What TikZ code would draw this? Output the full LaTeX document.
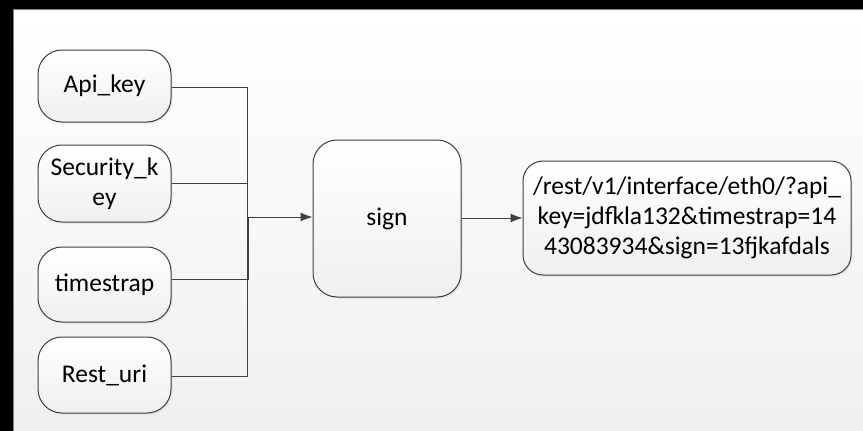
\documentclass[tikz,border=0pt]{standalone}
\usepackage{fontspec}
\setmainfont{Carlito}
\usetikzlibrary{arrows.meta,shadows}
\definecolor{linec}{HTML}{404040}
\tikzset{
  box/.style={draw=linec, line width=1pt, rounded corners=24pt, top color=white, bottom color=black!6,
    drop shadow={shadow xshift=1.5pt, shadow yshift=-1.5pt, opacity=0.15},
    align=center, inner sep=0pt, font=\fontsize{25.5}{30}\selectfont},
  conn/.style={draw=linec, line width=1pt},
  arr/.style={conn, -{Latex[length=12pt,width=9pt]}}
}
\begin{document}
\begin{tikzpicture}[x=1pt,y=-1pt]
\useasboundingbox (0,0) rectangle (863,431);
\fill[black] (0,0) rectangle (863,431);
\shade[top color=white, bottom color=black!6] (13,9) rectangle (863,431);
\draw[gray, line width=1pt] (13,431) -- (13,9) -- (863,9);
\node[box, minimum width=133pt, minimum height=72pt] (api) at (104.5,86) {Api\_key};
\node[box, minimum width=133pt, minimum height=77pt] (sec) at (104.5,183.5) {Security\_k\\ey};
\node[box, minimum width=133pt, minimum height=75pt] (ts) at (104.5,284.5) {timestrap};
\node[box, minimum width=133pt, minimum height=76pt] (rest) at (104.5,375) {Rest\_uri};
\node[box, minimum width=148pt, minimum height=157pt] (sign) at (387,218.5) {sign};
\node[box, rounded corners=20pt, minimum width=328pt, minimum height=114pt] (out) at (687,218)
  {/rest/v1/interface/eth0/?api\_\\key=jdfkla132\&timestrap=14\\43083934\&sign=13fjkafdals};
\coordinate (bus) at (247,217);
\draw[conn] (api.east |- 0,87) -- (247,87) -- (bus);
\draw[conn] (sec.east) -- (247,183.5);
\draw[conn] (ts.east |- 0,279) -- (248.5,279) -- (248.5,217);
\draw[conn] (rest.east |- 0,376) -- (247,376) -- (bus);
\draw[arr] (bus) -- (sign.west |- bus);
\draw[arr] (sign.east |- 0,218) -- (out.west |- 0,218);
\end{tikzpicture}
\end{document}
